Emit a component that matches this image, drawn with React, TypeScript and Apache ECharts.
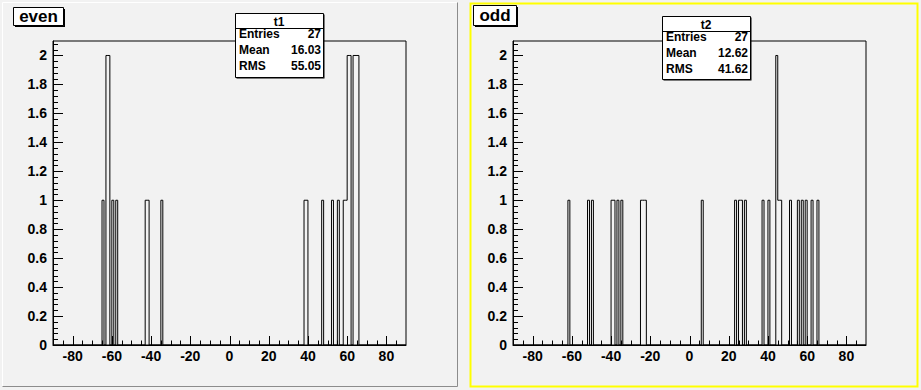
import React, { useEffect, useRef } from "react";
import * as echarts from "echarts";

// ---- data ----
const binWidth = 1;
// "even" histogram (t1): lower edges of non-empty bins and their counts
const evenBinLow = [-65, -63, -62, -60, -58, -43, -42, -35, 38, 39, 47, 52, 55, 58, 59, 60, 61, 63, 64, 65];
const evenCounts = [1, 2, 2, 1, 1, 1, 1, 1, 1, 1, 1, 1, 1, 1, 1, 2, 2, 2, 2, 2];
// "odd" histogram (t2)
const oddBinLow = [-62, -52, -50, -40, -39, -37, -35, -25, -24, -23, 6, 23, 25, 26, 28, 37, 40, 44, 45, 46, 51, 55, 57, 59, 62, 65];
const oddCounts = [1, 1, 1, 1, 1, 1, 1, 1, 1, 1, 1, 1, 1, 1, 1, 1, 1, 2, 1, 1, 1, 1, 1, 1, 1, 1];

const xTickValues = [-80, -60, -40, -20, 0, 20, 40, 60, 80];
const yTickValues = [0, 0.2, 0.4, 0.6, 0.8, 1, 1.2, 1.4, 1.6, 1.8, 2];

const statLabels = ["Entries", "Mean", "RMS"];
const evenStats = ["27", "16.03", "55.05"];
const oddStats = ["27", "12.62", "41.62"];
const evenName = "t1";
const oddName = "t2";
const evenTitle = "even";
const oddTitle = "odd";

const X_MIN = -90;
const X_MAX = 90;
const Y_MAX = 2.1;
const X_MINOR_STEP = 5;
const Y_MINOR_STEP = 0.04;

// tick marks (styling): [kind, value]; kind 0 = x minor, 1 = x major, 2 = y minor, 3 = y major
const tickMarks: number[][] = [];
for (let k = -17; k <= 17; k++) tickMarks.push([k % 4 === 0 ? 1 : 0, k * X_MINOR_STEP]);
for (let k = 0; k <= 52; k++) tickMarks.push([k % 5 === 0 ? 3 : 2, Math.round(k * Y_MINOR_STEP * 1000) / 1000]);

// outline of a histogram (ROOT "HIST" style)
function outline(lows: number[], counts: number[], w: number): number[][] {
  const pts: number[][] = [[X_MIN, 0]];
  let prevHigh: number | null = null;
  for (let i = 0; i < lows.length; i++) {
    const lo = lows[i];
    const hi = lo + w;
    const c = counts[i];
    if (prevHigh !== null && Math.abs(prevHigh - lo) < 1e-9) {
      pts.push([lo, c]);
    } else {
      pts.push([lo, 0]);
      pts.push([lo, c]);
    }
    pts.push([hi, c]);
    const next = i + 1 < lows.length ? lows[i + 1] : null;
    if (next === null || Math.abs(next - hi) > 1e-9) {
      pts.push([hi, 0]);
    }
    prevHigh = hi;
  }
  pts.push([X_MAX, 0]);
  return pts;
}

const FONT = '"Liberation Sans", Arial, Helvetica, sans-serif';

function axesFor(gridIndex: number) {
  const x = {
    type: "value",
    gridIndex,
    min: X_MIN,
    max: X_MAX,
    position: "bottom",
    axisLine: { show: true, onZero: false, lineStyle: { color: "#000", width: 1 } },
    axisTick: { show: false },
    axisLabel: {
      show: true,
      customValues: xTickValues,
      margin: 4,
      color: "#000",
      fontFamily: FONT,
      fontWeight: "bold",
      fontSize: 14,
      formatter: (v: number) => String(v),
    },
    splitLine: { show: false },
  };
  const y = {
    type: "value",
    gridIndex,
    min: 0,
    max: Y_MAX,
    position: "left",
    axisLine: { show: true, onZero: false, lineStyle: { color: "#000", width: 1 } },
    axisTick: { show: false },
    axisLabel: {
      show: true,
      customValues: yTickValues,
      margin: 6,
      color: "#000",
      fontFamily: FONT,
      fontWeight: "bold",
      fontSize: 14,
      formatter: (v: number) => String(Math.round(v * 10) / 10),
    },
    splitLine: { show: false },
  };
  return { x, y };
}

function tickSeries(axisIndex: number) {
  return {
    type: "custom",
    xAxisIndex: axisIndex,
    yAxisIndex: axisIndex,
    data: tickMarks,
    encode: { x: -1, y: -1 },
    silent: true,
    clip: false,
    z: 6,
    renderItem: (_params: any, api: any) => {
      const kind = api.value(0);
      const v = api.value(1);
      if (kind <= 1) {
        const p = api.coord([v, 0]);
        const len = kind === 1 ? 9 : 4.5;
        const xx = Math.round(p[0]) + 0.5;
        return { type: "line", shape: { x1: xx, y1: p[1], x2: xx, y2: p[1] - len }, style: { stroke: "#000", lineWidth: 1 } };
      }
      const p = api.coord([X_MIN, v]);
      const len = kind === 3 ? 10 : 5;
      const yy = Math.round(p[1]) + 0.5;
      return { type: "line", shape: { x1: p[0], y1: yy, x2: p[0] + len, y2: yy }, style: { stroke: "#000", lineWidth: 1 } };
    },
  };
}

function titleBox(x: number, y: number, w: number, h: number, text: string) {
  return {
    type: "group",
    z: 20,
    children: [
      { type: "rect", shape: { x: x + 2, y: y + 2, width: w, height: h }, style: { fill: "#000" } },
      { type: "rect", shape: { x: x + 0.5, y: y + 0.5, width: w, height: h }, style: { fill: "#ffffff", stroke: "#000", lineWidth: 1 } },
      {
        type: "text",
        style: { text, x: x + w / 2 + 0.5, y: y + h / 2 + 0.5, align: "center", verticalAlign: "middle", font: `bold 17px ${FONT}`, fill: "#000" },
      },
    ],
  };
}

function statsBox(x: number, y: number, w: number, h: number, name: string, values: string[]) {
  const headerH = 15;
  const rowH = 16.3;
  const children: any[] = [
    { type: "rect", shape: { x: x + 1.5, y: y + 1.5, width: w, height: h }, style: { fill: "#000" } },
    { type: "rect", shape: { x: x + 0.5, y: y + 0.5, width: w, height: h }, style: { fill: "#ffffff", stroke: "#000", lineWidth: 1 } },
    { type: "line", shape: { x1: x, y1: y + headerH + 0.5, x2: x + w, y2: y + headerH + 0.5 }, style: { stroke: "#000", lineWidth: 1 } },
    {
      type: "text",
      style: { text: name, x: x + w / 2, y: y + headerH / 2 + 1, align: "center", verticalAlign: "middle", font: `bold 12px ${FONT}`, fill: "#000" },
    },
  ];
  for (let i = 0; i < statLabels.length; i++) {
    const cy = y + headerH + 5.5 + i * rowH;
    children.push({
      type: "text",
      style: { text: statLabels[i], x: x + 4, y: cy, align: "left", verticalAlign: "middle", font: `bold 12px ${FONT}`, fill: "#000" },
    });
    children.push({
      type: "text",
      style: { text: values[i], x: x + w - 2, y: cy, align: "right", verticalAlign: "middle", font: `bold 12px ${FONT}`, fill: "#000" },
    });
  }
  return { type: "group", z: 20, children };
}

export default function App() {
  const ref = useRef<HTMLDivElement>(null);

  useEffect(() => {
    if (!ref.current) return;
    const chart = echarts.init(ref.current, undefined, { renderer: "svg", width: 921, height: 390 });
    const a = axesFor(0);
    const b = axesFor(1);

    const option: any = {
      animation: false,
      backgroundColor: "#f2f2f2",
      grid: [
        { left: 53, top: 41, width: 353, height: 304, show: true, borderColor: "#000", borderWidth: 1, backgroundColor: "transparent", containLabel: false },
        { left: 513, top: 41, width: 353, height: 304, show: true, borderColor: "#000", borderWidth: 1, backgroundColor: "transparent", containLabel: false },
      ],
      xAxis: [a.x, b.x],
      yAxis: [a.y, b.y],
      series: [
        { name: evenName, type: "line", xAxisIndex: 0, yAxisIndex: 0, data: outline(evenBinLow, evenCounts, binWidth), showSymbol: false, symbol: "none", lineStyle: { color: "#000", width: 1 }, silent: true, z: 5 },
        { name: oddName, type: "line", xAxisIndex: 1, yAxisIndex: 1, data: outline(oddBinLow, oddCounts, binWidth), showSymbol: false, symbol: "none", lineStyle: { color: "#000", width: 1 }, silent: true, z: 5 },
        tickSeries(0),
        tickSeries(1),
      ],
      graphic: [
        // left pad bevel
        { type: "line", z: -10, shape: { x1: 2.5, y1: 2.5, x2: 457.5, y2: 2.5 }, style: { stroke: "#ffffff", lineWidth: 1 } },
        { type: "line", z: -10, shape: { x1: 2.5, y1: 2.5, x2: 2.5, y2: 386.5 }, style: { stroke: "#ffffff", lineWidth: 1 } },
        { type: "line", z: -10, shape: { x1: 457.5, y1: 2.5, x2: 457.5, y2: 386.5 }, style: { stroke: "#8c8c8c", lineWidth: 1 } },
        { type: "line", z: -10, shape: { x1: 2.5, y1: 386.5, x2: 457.5, y2: 386.5 }, style: { stroke: "#8c8c8c", lineWidth: 1 } },
        // right pad (selected, yellow)
        { type: "rect", z: -10, shape: { x: 470.5, y: 3.5, width: 447, height: 383 }, style: { fill: "none", stroke: "#ffff00", lineWidth: 2 } },
        titleBox(13, 7, 50, 18, evenTitle),
        titleBox(473, 5, 43, 20, oddTitle),
        statsBox(235, 13, 88, 64, evenName, evenStats),
        statsBox(662, 16, 88, 63, oddName, oddStats),
      ],
    };
    chart.setOption(option);
    return () => chart.dispose();
  }, []);

  return <div ref={ref} style={{ position: "fixed", left: 0, top: 0, width: 921, height: 390, background: "#f2f2f2" }} />;
}
